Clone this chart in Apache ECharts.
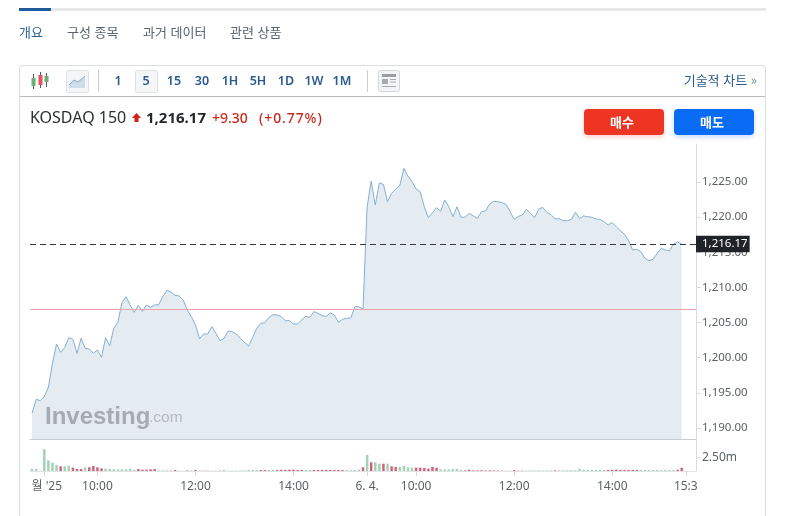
<!DOCTYPE html>
<html lang="ko"><head><meta charset="utf-8">
<script src="https://cdn.jsdelivr.net/npm/echarts@6/dist/echarts.min.js"></script>
<style>
html,body{margin:0;padding:0;background:#fff;width:789px;height:516px;overflow:hidden;font-family:"Noto Sans","Noto Sans CJK KR",sans-serif}
#chart{position:absolute;left:0;top:0;width:789px;height:516px}
.a{position:absolute;white-space:nowrap}
.tab{top:23px;font-size:13px;line-height:17px;color:#5b6570;font-family:"Noto Sans CJK KR"}
.per{top:71px;width:28px;text-align:center;font-size:12.5px;line-height:20px;font-weight:600;color:#2a5a8f}
.btn{top:109px;width:76px;padding-right:4px;height:26px;line-height:26px;border-radius:4px;color:#fff;text-align:center;font-size:13px;font-weight:700;font-family:"Noto Sans CJK KR"}
</style></head><body>
<div id="chart"></div>
<div class="a" style="left:19px;top:8px;width:747px;height:3px;background:#e6e8ea"></div>
<div class="a" style="left:19px;top:8px;width:32px;height:3px;background:#1f5a9c"></div>
<div class="a tab" style="left:19px;color:#2a6496">개요</div>
<div class="a tab" style="left:67px">구성 종목</div>
<div class="a tab" style="left:143px">과거 데이터</div>
<div class="a tab" style="left:230px">관련 상품</div>
<div class="a" style="left:19px;top:65px;width:745px;height:460px;border:1px solid #dcdfe2;border-bottom:none;border-radius:4px 4px 0 0"></div>
<div class="a" style="left:20px;top:96px;width:745px;height:1px;background:#b9bcbf"></div>
<svg class="a" style="left:30px;top:71px" width="20" height="20" viewBox="0 0 20 20">
<path d="M3.5 3v15M10.5 1v16M16.5 2v14" stroke="#555" stroke-width="1"/>
<rect x="1.5" y="7" width="4" height="8" fill="#6fae6f"/><rect x="8.5" y="4" width="4" height="10" fill="#e0555f"/><rect x="14.5" y="5" width="4" height="6" fill="#6fae6f"/></svg>
<div class="a" style="left:66px;top:70px;width:21px;height:21px;border:1px solid #dfe2e5;border-radius:2px;background:#f3f5f6"></div>
<svg class="a" style="left:68px;top:73px" width="18" height="16" viewBox="0 0 18 16"><path d="M1 12 L6 7 L10 9 L17 3 V15 H1Z" fill="#cfdcea"/><path d="M1 12 L6 7 L10 9 L17 3" stroke="#8aa8c6" fill="none"/></svg>
<div class="a" style="left:98px;top:70px;width:1px;height:22px;background:#c9ccd0"></div>
<div class="a" style="left:135px;top:70px;width:21px;height:21px;border:1px solid #e0e2e4;border-radius:2px;background:#f5f6f7"></div>
<div class="a per" style="left:104px">1</div><div class="a per" style="left:132px">5</div><div class="a per" style="left:160px">15</div><div class="a per" style="left:188px">30</div><div class="a per" style="left:216px">1H</div><div class="a per" style="left:244px">5H</div><div class="a per" style="left:272px">1D</div><div class="a per" style="left:300px">1W</div><div class="a per" style="left:328px">1M</div>
<div class="a" style="left:367px;top:70px;width:1px;height:22px;background:#c9ccd0"></div>
<svg class="a" style="left:378px;top:70px" width="22" height="22" viewBox="0 0 22 22"><rect x=".5" y=".5" width="21" height="21" rx="2" fill="#f3f4f5" stroke="#d5d8da"/><rect x="4" y="4" width="14" height="3" fill="#9a9da0"/><rect x="4" y="9" width="6" height="5" fill="#a8abae"/><path d="M12 9.5h6M12 12h6M4 16.5h14" stroke="#a8abae"/></svg>
<div class="a" style="right:32px;top:71px;font-size:13px;line-height:18px;color:#2a5a8f;font-family:'Noto Sans CJK KR'">기술적 차트 <span style="color:#7a8a9a">»</span></div>
<div class="a" style="left:30px;top:106px;font-size:16px;line-height:22px;color:#2b2f33">KOSDAQ 150</div>
<svg class="a" style="left:131px;top:112px" width="11" height="11" viewBox="0 0 11 11"><path d="M5.5 1 L10 6 H7.5 V10 H3.5 V6 H1Z" fill="#d0201a"/></svg>
<div class="a" style="left:146px;top:106px;font-size:15px;line-height:22px;font-weight:700;color:#23272b">1,216.17</div>
<div class="a" style="left:212px;top:107px;font-size:14px;line-height:21px;font-weight:500;color:#c9291c">+9.30</div>
<div class="a" style="left:259px;top:107px;font-size:14px;line-height:21px;font-weight:500;color:#c9291c;letter-spacing:.9px">(+0.77%)</div>
<div class="a btn" style="left:584px;background:#ee3524;box-shadow:0 2px 5px rgba(238,53,36,.25)">매수</div>
<div class="a btn" style="left:674px;background:#0a6cf5;box-shadow:0 2px 5px rgba(10,108,245,.25)">매도</div>
<script>
const prices = [
1192.09,1194.08,1193.90,1194.47,1195.79,1199.21,1201.96,1200.77,1201.48,1202.86,
1202.62,1200.63,1202.76,1201.34,1201.25,1200.63,1201.10,1200.06,1202.86,1201.67,
1204.19,1205.04,1207.84,1208.69,1207.50,1206.46,1207.46,1206.60,1207.50,1207.17,
1207.50,1207.55,1208.69,1209.59,1209.35,1208.88,1208.79,1208.22,1206.79,1205.84,
1204.66,1202.71,1203.38,1203.38,1204.42,1203.47,1202.43,1202.76,1203.81,1203.71,
1203.38,1202.76,1202.19,1201.67,1202.90,1204.19,1204.90,1204.99,1205.75,1206.13,
1206.08,1205.84,1205.28,1205.28,1204.80,1204.80,1205.37,1205.89,1205.75,1206.56,
1206.32,1205.99,1205.89,1206.37,1206.08,1205.04,1205.47,1205.61,1205.65,1207.27,
1207.27,1206.89,
1221.39,1225.14,1221.73,1224.86,1224.67,1222.20,1223.39,1224.00,1224.48,1226.94,
1225.85,1225.05,1224.00,1223.62,1221.49,1219.92,1220.64,1221.35,1220.83,1222.44,
1221.49,1220.07,1221.49,1219.97,1220.02,1220.54,1220.16,1219.83,1220.78,1220.92,
1221.87,1222.25,1222.20,1222.06,1221.82,1220.78,1219.69,1220.11,1220.30,1221.11,
1220.54,1219.92,1221.16,1221.39,1220.66,
1220.36,1219.74,1219.79,1219.50,1219.50,1219.69,1220.69,1219.79,1220.17,1220.07,
1219.98,1219.74,1219.69,1219.36,1218.89,1219.22,1218.65,1218.08,1217.56,1216.66,
1215.33,1215.43,1215.09,1214.14,1213.81,1214.00,1214.86,1215.57,1215.33,1215.19,
1216.18,1216.47,1216.17];
const volumes = [
.38,.38,.06,4.08,2.0,1.57,1.13,.88,.88,1.0,
.63,.38,.38,.69,.69,.94,.69,.5,.44,.38,
.31,.31,.31,.31,.38,.19,.38,.25,.25,.31,
.38,.12,.12,.12,.12,.19,.06,.06,.1,.12,
.2,.1,.1,.06,.05,.08,.06,.2,.06,.06,
.06,.1,.12,.18,.2,.18,.18,.18,.2,.2,
.2,.22,.22,.25,.25,.2,.2,.18,.2,.18,
.18,.2,.22,.2,.2,.2,.18,.15,.15,.19,
.25,.69,3.0,1.63,1.63,1.38,1.38,1.38,.88,.75,
.75,.94,.69,.63,.63,.63,.56,.44,.75,.6,
.3,.3,.3,.38,.38,.19,.12,.25,.12,.12,
.15,.1,.12,.1,.1,.06,.06,.06,.18,.06,
.06,.06,.1,.1,.1,.1,.12,.12,.12,.12,
.12,.15,.15,.15,.4,.25,.22,.2,.2,.25,
.2,.2,.22,.25,.2,.2,.2,.2,.2,.2,
.2,.18,.18,.18,.15,.18,.15,.15,.22,.6];
const directionFlags = [
"gggggggrgg","rrrgrrrrgg","ggggggrrrr","rggggrggrg",
"rggrggrggg","ggggggrrgg","rrrrrrrggr","rrrrrrrggg",
"grgrggrgrr","ggggrrrrrr","ggggggrrrr","rrrrrrggrr",
"rgggggggrg","gggggggggg","grrrrrrrrg","ggggggggrr"].join("");
const tickIndex = [3,16,40,64,82,94,118,142,160];
const tickText = ["월 '25","10:00","12:00","14:00","6. 4.","10:00","12:00","14:00","15:3"];
const categoryCount = 163;
const priceTicks = [1190,1195,1200,1205,1210,1215,1220,1225];
const volumeTicks = [2.5];
const lastPrice = 1216.17, previousClose = 1206.87;

const categories = [];
for (let i=0;i<categoryCount;i++){ categories.push(String(i)); }
const font = '"Noto Sans","Noto Sans CJK KR",sans-serif';
const upC = "#a3d2b8", downC = "#d2627c";
const volData = volumes.map((v,i)=>({value:v,itemStyle:{color:directionFlags[i]==="r"?downC:upC}}));
const chart = echarts.init(document.getElementById("chart"),null,{renderer:"canvas"});
chart.setOption({
 animation:false,
 grid:[{left:30,right:93,top:144,height:295},{left:30,right:93,top:439,height:32}],
 xAxis:[
  {type:"category",gridIndex:0,data:categories,boundaryGap:true,
   axisLine:{show:true,onZero:false,lineStyle:{color:"#c5ccd2",width:1}},axisTick:{show:false},axisLabel:{show:false},splitLine:{show:false}},
  {type:"category",gridIndex:1,data:categories,boundaryGap:true,
   axisLine:{show:true,lineStyle:{color:"#e2e4e6",width:1}},
   axisTick:{show:true,alignWithLabel:true,length:5,lineStyle:{color:"#d8dadc"},interval:(i)=>tickIndex.includes(i)},
   axisLabel:{show:true,interval:(i)=>tickIndex.includes(i),hideOverlap:false,margin:10,color:"#5c6166",fontSize:12,fontFamily:font,
     rich:{first:{padding:[0,0,0,5],color:"#5c6166",fontSize:12,fontFamily:font}},
     formatter:(v)=>{const t=tickText[tickIndex.indexOf(Number(v))];return Number(v)===tickIndex[0]?"{first|"+t+"}":t;}},
   splitLine:{show:false}}
 ],
 yAxis:[
  {type:"value",gridIndex:0,position:"right",min:1188.44,max:1230.41,scale:true,
   axisLine:{show:true,lineStyle:{color:"#d9dcdf"}},
   axisTick:{show:true,length:5,lineStyle:{color:"#d9dcdf"},customValues:priceTicks},
   axisLabel:{margin:6,padding:[1,0,0,0],color:"#5c6166",fontSize:11.5,fontFamily:font,customValues:priceTicks,formatter:v=>v.toLocaleString("en-US",{minimumFractionDigits:2,maximumFractionDigits:2})},
   splitLine:{show:false}},
  {type:"value",gridIndex:1,position:"right",min:0,max:6,
   axisLine:{show:true,lineStyle:{color:"#d9dcdf"}},
   axisTick:{show:true,length:5,lineStyle:{color:"#d9dcdf"},customValues:volumeTicks},
   axisLabel:{margin:6,color:"#5c6166",fontSize:12,fontFamily:font,customValues:volumeTicks,formatter:v=>v.toFixed(2)+"m"},
   splitLine:{show:false}}
 ],
 graphic:[
  {type:"text",left:45,top:405,z:5,style:{text:"Investing",fill:"#a5abb0",font:'bold 24px "Liberation Sans",sans-serif'}},
  {type:"text",left:149,top:410,z:5,style:{text:".com",fill:"#b4babf",font:'15.5px "Liberation Sans",sans-serif'}}
 ],
 series:[
  {type:"line",xAxisIndex:0,yAxisIndex:0,data:prices,symbol:"none",smooth:false,z:3,
   lineStyle:{color:"#85aed0",width:1},areaStyle:{color:"#e4ecf2",opacity:1,origin:"start"},
   markLine:{silent:true,symbol:"none",precision:2,z:6,animation:false,
    data:[
     {yAxis:previousClose,label:{show:false},lineStyle:{color:"#f0a0aa",type:"solid",width:1}},
     {yAxis:lastPrice,lineStyle:{color:"#33383d",type:[6,4],width:1},
      label:{show:true,position:"end",distance:0,formatter:"1,216.17",color:"#fff",backgroundColor:"#1f2328",padding:[3,2,2,6],fontSize:11.5,fontFamily:font}}
    ]}},
  {type:"bar",xAxisIndex:1,yAxisIndex:1,data:volData,barWidth:2.5}
 ]
});
</script>
</body></html>
